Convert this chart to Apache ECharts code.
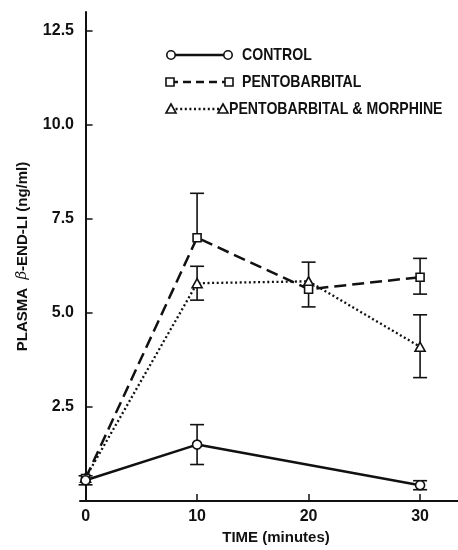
<!DOCTYPE html>
<html>
<head>
<meta charset="utf-8">
<script src="https://cdn.jsdelivr.net/npm/echarts@6/dist/echarts.min.js"></script>
<style>
html,body{margin:0;padding:0;background:#fff;}
#chart{width:458px;height:550px;}
</style>
</head>
<body>
<div id="chart"></div>
<script>
// ---- data ----
const times = [0, 10, 20, 30];
const xTickLabels = [0, 10, 20, 30];
const yTickLabels = [2.5, 5.0, 7.5, 10.0, 12.5];

const seriesNames = ['CONTROL', 'PENTOBARBITAL', 'PENTOBARBITAL & MORPHINE'];

const control     = [0.55, 1.50, null, 0.42];
const controlLow  = [0.43, 0.97, null, 0.30];
const controlHigh = [0.67, 2.03, null, 0.54];

const pento     = [0.60, 7.00, 5.63, 5.95];
const pentoLow  = [null, null, 5.16, 5.50];
const pentoHigh = [null, 8.18, null, 6.45];

const pentoMorph     = [0.62, 5.79, 5.84, 4.10];
const pentoMorphLow  = [null, 5.34, null, 3.28];
const pentoMorphHigh = [null, 6.24, 6.35, 4.95];

// ---- helpers ----
const INK = '#111';
const FONT = "'Liberation Sans', Arial, sans-serif";

function lineData(vals) {
  return times.map((t, i) => [t, vals[i] == null ? null : vals[i]]);
}
function errData(vals, lows, highs) {
  const out = [];
  times.forEach((t, i) => {
    if (vals[i] == null) return;
    if (lows[i] == null && highs[i] == null) return;
    const lo = lows[i] == null ? vals[i] : lows[i];
    const hi = highs[i] == null ? vals[i] : highs[i];
    out.push([t, lo, hi, lows[i] == null ? 0 : 1, highs[i] == null ? 0 : 1]);
  });
  return out;
}
function renderErr(params, api) {
  const x = api.value(0), lo = api.value(1), hi = api.value(2);
  const loCap = api.value(3), hiCap = api.value(4);
  const p1 = api.coord([x, lo]), p2 = api.coord([x, hi]);
  const w = 7;
  const st = { stroke: INK, lineWidth: 1.6 };
  const ch = [{ type: 'line', shape: { x1: p1[0], y1: p1[1], x2: p2[0], y2: p2[1] }, style: st }];
  if (loCap) ch.push({ type: 'line', shape: { x1: p1[0] - w, y1: p1[1], x2: p1[0] + w, y2: p1[1] }, style: st });
  if (hiCap) ch.push({ type: 'line', shape: { x1: p2[0] - w, y1: p2[1], x2: p2[0] + w, y2: p2[1] }, style: st });
  return { type: 'group', children: ch };
}

const chart = echarts.init(document.getElementById('chart'), null, { renderer: 'canvas' });

const symStyle = { color: '#fff', borderColor: INK, borderWidth: 1.6 };

// legend drawn as graphic (symbol - line - symbol, then condensed label)
function legendRow(y, x1, x2, tx, lineType, lw, sym, label) {
  const ls = { stroke: INK, lineWidth: lw, lineDash: lineType };
  const els = [{ type: 'line', shape: { x1: x1, y1: y, x2: x2, y2: y }, style: ls, z: 1 }];
  [x1, x2].forEach(cx => {
    const s = { fill: '#fff', stroke: INK, lineWidth: 1.6 };
    if (sym === 'circle') els.push({ type: 'circle', shape: { cx: cx, cy: y, r: 4.2 }, style: s, z: 2 });
    if (sym === 'rect') els.push({ type: 'rect', shape: { x: cx - 4, y: y - 4, width: 8, height: 8 }, style: s, z: 2 });
    if (sym === 'triangle') els.push({ type: 'polygon', shape: { points: [[cx, y - 5], [cx + 5, y + 4], [cx - 5, y + 4]] }, style: s, z: 2 });
  });
  els.push({ type: 'text', x: tx, y: y, scaleX: 0.83, style: { text: label, fill: INK, font: "bold 17px " + FONT, textVerticalAlign: 'middle' }, z: 2 });
  return els;
}

const option = {
  backgroundColor: '#fff',
  animation: false,
  grid: { left: 80, right: 0, top: 12, bottom: 46, containLabel: false },
  xAxis: {
    type: 'value',
    min: -0.5,
    max: 33.4,
    name: 'TIME (minutes)',
    nameLocation: 'middle',
    nameGap: 29,
    nameTextStyle: { fontFamily: FONT, fontWeight: 'bold', fontSize: 15, color: INK, padding: [0, 0, 0, 14] },
    axisLine: { lineStyle: { color: INK, width: 2 } },
    axisTick: { inside: true, length: 7, lineStyle: { color: INK, width: 1.5 }, customValues: xTickLabels },
    axisLabel: { customValues: xTickLabels, margin: 8, fontFamily: FONT, fontWeight: 'bold', fontSize: 16, color: INK },
    splitLine: { show: false }
  },
  yAxis: {
    type: 'value',
    min: 0,
    max: 13,
    name: '{t|PLASMA  }{b|β}{t|-END-LI (ng/ml)}',
    nameLocation: 'middle',
    nameRotate: 90,
    nameGap: 50,
    nameTextStyle: {
      color: INK,
      rich: {
        t: { fontFamily: FONT, fontWeight: 'bold', fontSize: 15, color: INK },
        b: { fontFamily: "'DejaVu Serif', serif", fontStyle: 'italic', fontWeight: 'normal', fontSize: 15, color: INK }
      }
    },
    axisLine: { show: true, lineStyle: { color: INK, width: 2 } },
    axisTick: { show: true, inside: true, length: 7, lineStyle: { color: INK, width: 1.5 }, customValues: yTickLabels },
    axisLabel: { customValues: yTickLabels, margin: 6, formatter: v => v.toFixed(1), fontFamily: FONT, fontWeight: 'bold', fontSize: 16, color: INK },
    splitLine: { show: false }
  },
  series: [
    { type: 'custom', name: 'errC', renderItem: renderErr, data: errData(control, controlLow, controlHigh), encode: { x: 0, y: [1, 2] }, z: 1, silent: true },
    { type: 'custom', name: 'errP', renderItem: renderErr, data: errData(pento, pentoLow, pentoHigh), encode: { x: 0, y: [1, 2] }, z: 1, silent: true },
    { type: 'custom', name: 'errPM', renderItem: renderErr, data: errData(pentoMorph, pentoMorphLow, pentoMorphHigh), encode: { x: 0, y: [1, 2] }, z: 1, silent: true },
    {
      type: 'line', name: seriesNames[2], data: lineData(pentoMorph), z: 3,
      symbol: 'triangle', symbolSize: [10, 9], itemStyle: symStyle,
      lineStyle: { color: INK, width: 2.3, type: [2, 2.6] }, connectNulls: true
    },
    {
      type: 'line', name: seriesNames[1], data: lineData(pento), z: 4,
      symbol: 'rect', symbolSize: 8, itemStyle: symStyle,
      lineStyle: { color: INK, width: 2.5, type: [12, 6] }, connectNulls: true
    },
    {
      type: 'line', name: seriesNames[0], data: lineData(control), z: 5,
      symbol: 'circle', symbolSize: 9, itemStyle: symStyle,
      lineStyle: { color: INK, width: 2.5 }, connectNulls: true
    }
  ],
  graphic: [].concat(
    legendRow(55, 171, 228, 242, null, 2.5, 'circle', seriesNames[0]),
    legendRow(82, 170, 229, 242, [8, 5], 2.5, 'rect', seriesNames[1]),
    legendRow(109, 171, 223, 229, [2, 2.6], 2.3, 'triangle', seriesNames[2])
  )
};
chart.setOption(option);
</script>
</body>
</html>
